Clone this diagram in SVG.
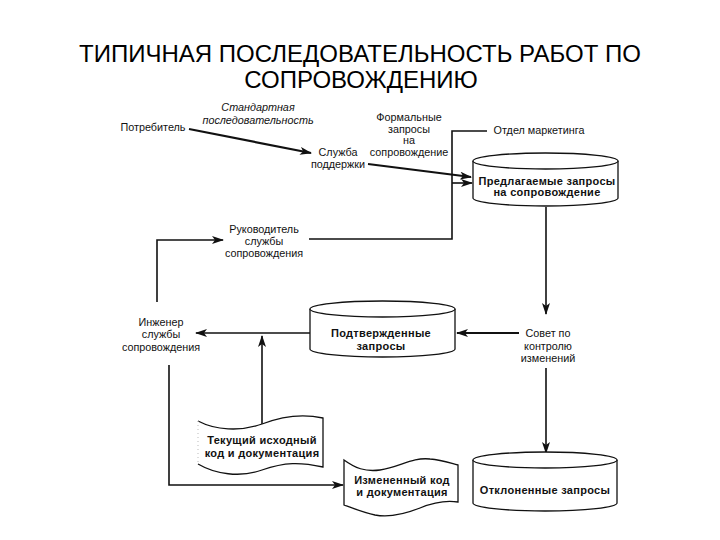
<svg xmlns="http://www.w3.org/2000/svg" width="720" height="540" viewBox="0 0 720 540">
<style>
  .t{font-family:"Liberation Sans",Arial,sans-serif;font-size:10.8px;fill:#111;text-anchor:middle}
  .b{font-weight:bold;font-size:11px;letter-spacing:0.3px}
  .i{font-style:italic}
  .title{font-family:"Liberation Sans",Arial,sans-serif;font-size:24px;fill:#000;text-anchor:middle}
  .shape{fill:#fff;stroke:#111;stroke-width:1.3}
  .ln{fill:none;stroke:#111;stroke-width:1.6}
  .lnt{fill:none;stroke:#111;stroke-width:2.2}
</style>
<defs>
  <marker id="ah" markerUnits="userSpaceOnUse" markerWidth="12" markerHeight="8" refX="11" refY="4" orient="auto">
    <path d="M0,0 L12,4 L0,8 L3,4 Z" fill="#111"/>
  </marker>
</defs>
<rect width="720" height="540" fill="#fff"/>
<g id="title">
  <text class="title" x="360" y="62">ТИПИЧНАЯ ПОСЛЕДОВАТЕЛЬНОСТЬ РАБОТ ПО</text>
  <text class="title" x="361" y="88">СОПРОВОЖДЕНИЮ</text>
</g>
<g id="connectors">
  <path class="lnt" d="M189,129 L311,153" marker-end="url(#ah)"/>
  <path class="lnt" d="M368,164 L471,177" marker-end="url(#ah)"/>
  <path class="ln" d="M487,131 L452,131 L452,239 L309,239"/>
  <path class="ln" d="M452,183 L472,183" marker-end="url(#ah)"/>
  <path class="ln" d="M546,207 L546,314" marker-end="url(#ah)"/>
  <path class="lnt" d="M519,333 L457,333" marker-end="url(#ah)"/>
  <path class="ln" d="M310,333 L196,333" marker-end="url(#ah)"/>
  <path class="ln" d="M157,302 L157,240 L223,240" marker-end="url(#ah)"/>
  <path class="ln" d="M169,365 L169,485 L343,485" marker-end="url(#ah)"/>
  <path class="ln" d="M262,424 L262,336" marker-end="url(#ah)"/>
  <path class="ln" d="M546,368 L546,453" marker-end="url(#ah)"/>
</g>
<g id="potrebitel">
  <text class="t" x="153" y="131">Потребитель</text>
</g>
<g id="standart">
  <text class="t i" x="258" y="111">Стандартная</text>
  <text class="t i" x="258" y="124">последовательность</text>
</g>
<g id="formal">
  <text class="t" x="409" y="121">Формальные</text>
  <text class="t" x="409" y="132.5">запросы</text>
  <text class="t" x="409" y="144">на</text>
  <text class="t" x="409" y="156">сопровождение</text>
</g>
<g id="sluzhba">
  <text class="t" x="338" y="156">Служба</text>
  <text class="t" x="338" y="168">поддержки</text>
</g>
<g id="marketing">
  <text class="t" x="539" y="134">Отдел маркетинга</text>
</g>
<g id="predlag">
  <path class="shape" d="M473,161 L473,198 A72.5,8 0 0 0 618,198 L618,161"/>
  <ellipse class="shape" cx="545.5" cy="161" rx="72.5" ry="8"/>
  <text class="t b" x="547" y="185">Предлагаемые запросы</text>
  <text class="t b" x="547" y="196">на сопровождение</text>
</g>
<g id="rukovod">
  <text class="t" x="264" y="233">Руководитель</text>
  <text class="t" x="264" y="245">службы</text>
  <text class="t" x="264" y="257">сопровождения</text>
</g>
<g id="inzhener">
  <text class="t" x="161" y="326">Инженер</text>
  <text class="t" x="161" y="338">службы</text>
  <text class="t" x="161" y="351">сопровождения</text>
</g>
<g id="podtverzh">
  <path class="shape" d="M310,309 L310,349 A72.5,8 0 0 0 455,349 L455,309"/>
  <ellipse class="shape" cx="382.5" cy="309" rx="72.5" ry="8"/>
  <text class="t b" x="381" y="337">Подтвержденные</text>
  <text class="t b" x="381" y="350">запросы</text>
</g>
<g id="sovet">
  <text class="t" x="548" y="337">Совет по</text>
  <text class="t" x="548" y="350">контролю</text>
  <text class="t" x="548" y="362">изменений</text>
</g>
<g id="tekushchiy">
  <path d="M198,421 C215,430 240,432 262,424 C285,415 305,414 323,418 L323,467 C300,462 285,462 262,470 C240,478 215,474 198,464" fill="#fff" stroke="#111" stroke-width="1.3"/>
  <path d="M198,421 L198,464" stroke="#bbb" stroke-width="1" stroke-dasharray="1,3" fill="none"/>
  <text class="t b" x="262" y="444">Текущий исходный</text>
  <text class="t b" x="262" y="457">код и документация</text>
</g>
<g id="izmenen">
  <path class="shape" d="M344,460 C355,468 365,472 380,470 C400,467 412,457 430,459 C442,460 450,463 458,465 L458,502 C445,500 432,503 420,508 C405,514 390,518 375,515 C362,512 352,508 344,505 Z"/>
  <text class="t b" x="402" y="484">Измененный код</text>
  <text class="t b" x="402" y="496">и документация</text>
</g>
<g id="otklon">
  <path class="shape" d="M473,460 L473,503 A72,8 0 0 0 617,503 L617,460"/>
  <ellipse class="shape" cx="545" cy="460" rx="72" ry="8"/>
  <text class="t b" x="545" y="494">Отклоненные запросы</text>
</g>
</svg>
